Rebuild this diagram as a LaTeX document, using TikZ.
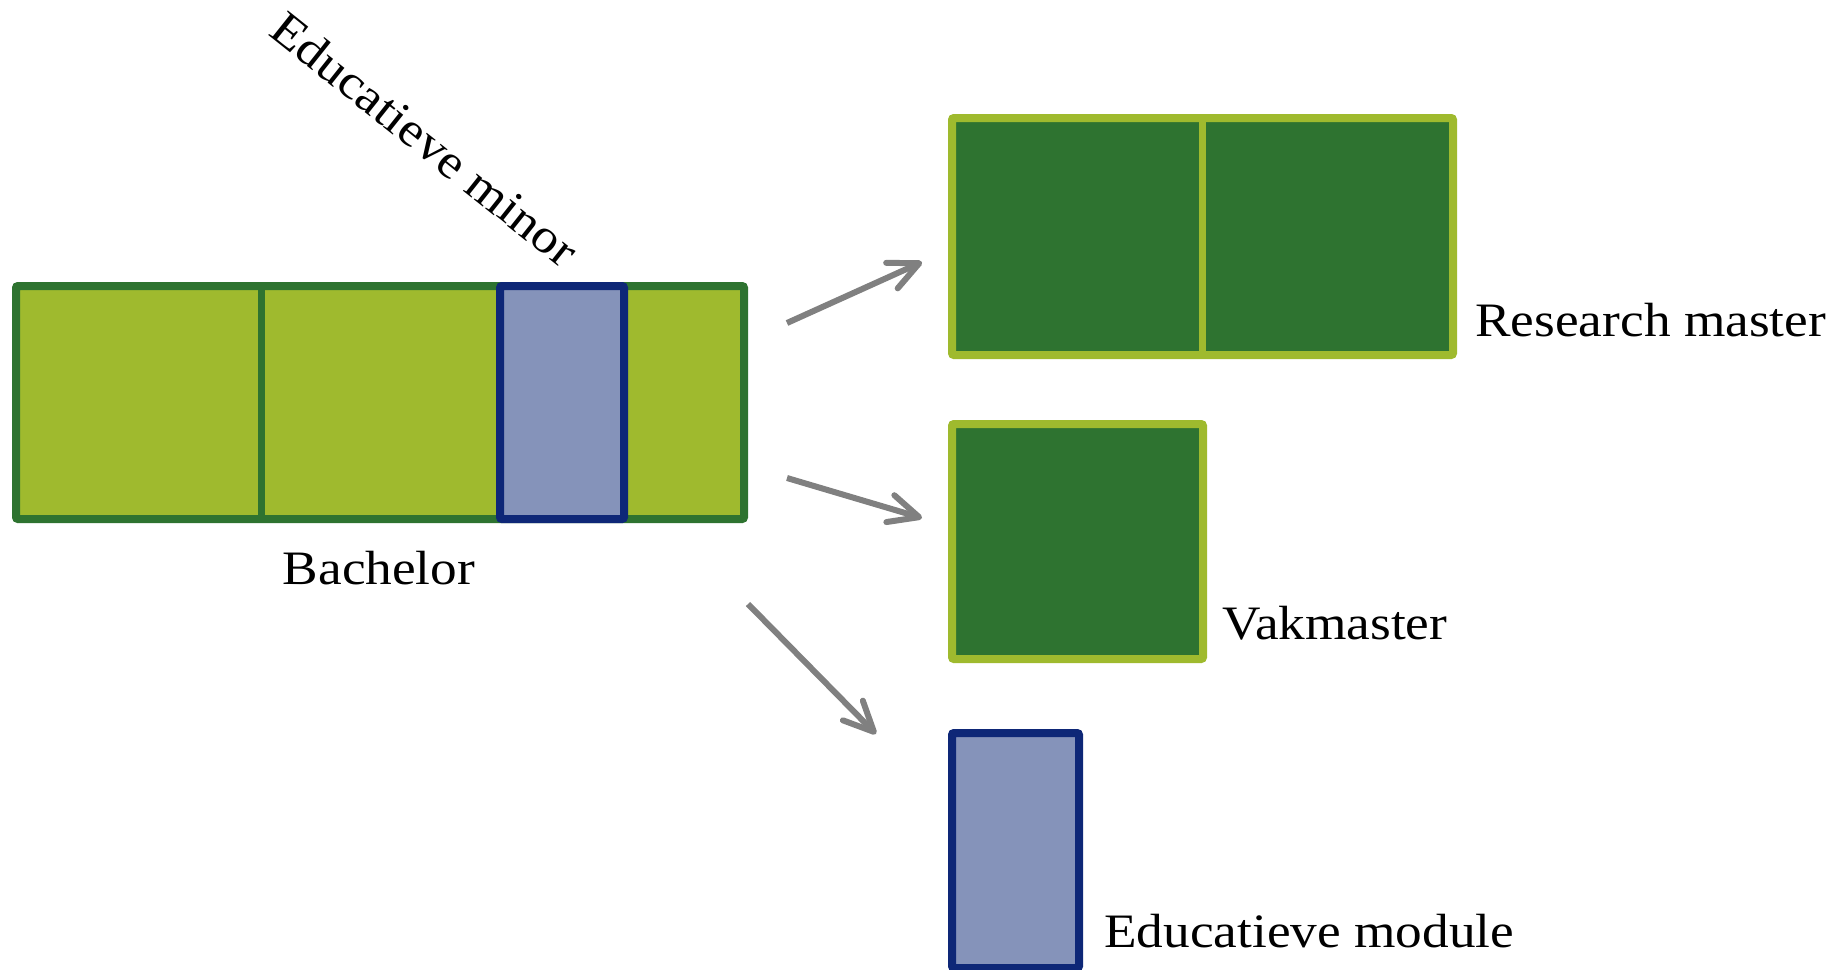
\documentclass[tikz,border=0pt]{standalone}
\usepackage{fontspec}
\setmainfont[FakeStretch=1.11]{Liberation Serif}
\usetikzlibrary{arrows.meta,fit}
\definecolor{lgreen}{RGB}{159,186,46}
\definecolor{dgreen}{RGB}{46,115,48}
\definecolor{bfill}{RGB}{133,147,186}
\definecolor{bdraw}{RGB}{14,39,119}
\definecolor{agray}{RGB}{128,128,128}
\begin{document}
\begin{tikzpicture}[x=0.5pt,y=-0.5pt,
  box/.style={inner sep=0pt, outer sep=0pt, rounded corners=1pt, line width=4pt},
  bachbox/.style={box, draw=dgreen, fill=lgreen},
  masterbox/.style={box, draw=lgreen, fill=dgreen},
  minorbox/.style={box, draw=bdraw, fill=bfill},
  lbl/.style={inner sep=0pt, font=\fontsize{24}{28}\selectfont},
  conn/.style={draw=agray, line width=3pt, line cap=butt,
    -{Straight Barb[length=15pt,width=14pt,round]}}]
\useasboundingbox (0,0) rectangle (1833,970);
% Bachelor
\node[bachbox, fit={(16,286) (744,519)}] (bach) {};
\draw[dgreen, line width=3.5pt] (261,0 |- bach.north) -- (261,0 |- bach.south);
\node[minorbox, fit={(500,286) (624,519)}] (minor) {};
% Research master
\node[masterbox, fit={(952,118) (1453,355)}] (rm) {};
\draw[lgreen, line width=3.5pt] (1202,0 |- rm.north) -- (1202,0 |- rm.south);
% Vakmaster
\node[masterbox, fit={(952,424) (1203,659)}] (vm) {};
% Educatieve module
\node[minorbox, fit={(952,733) (1079,968)}] (em) {};
% labels
\node[lbl, anchor=base] (bl) at (379,584) {Bachelor};
\node[lbl, anchor=base west] (rml) at (1475,336) {Research master};
\node[lbl, anchor=base west] (vml) at (1222,639) {Vakmaster};
\node[lbl, anchor=base west] (eml) at (1104,947) {Educatieve module};
\node[lbl, rotate=-38.5] (minl) at (425,139) {Educatieve minor};
% arrows
\coordinate (a1s) at (787,323);
\coordinate (a1e) at (922,262);
\coordinate (a2s) at (787,478);
\coordinate (a2e) at (922,518);
\coordinate (a3s) at (748,604);
\coordinate (a3e) at (876,734);
\draw[conn] (a1s) -- (a1e);
\draw[conn] (a2s) -- (a2e);
\draw[conn] (a3s) -- (a3e);
\end{tikzpicture}
\end{document}
